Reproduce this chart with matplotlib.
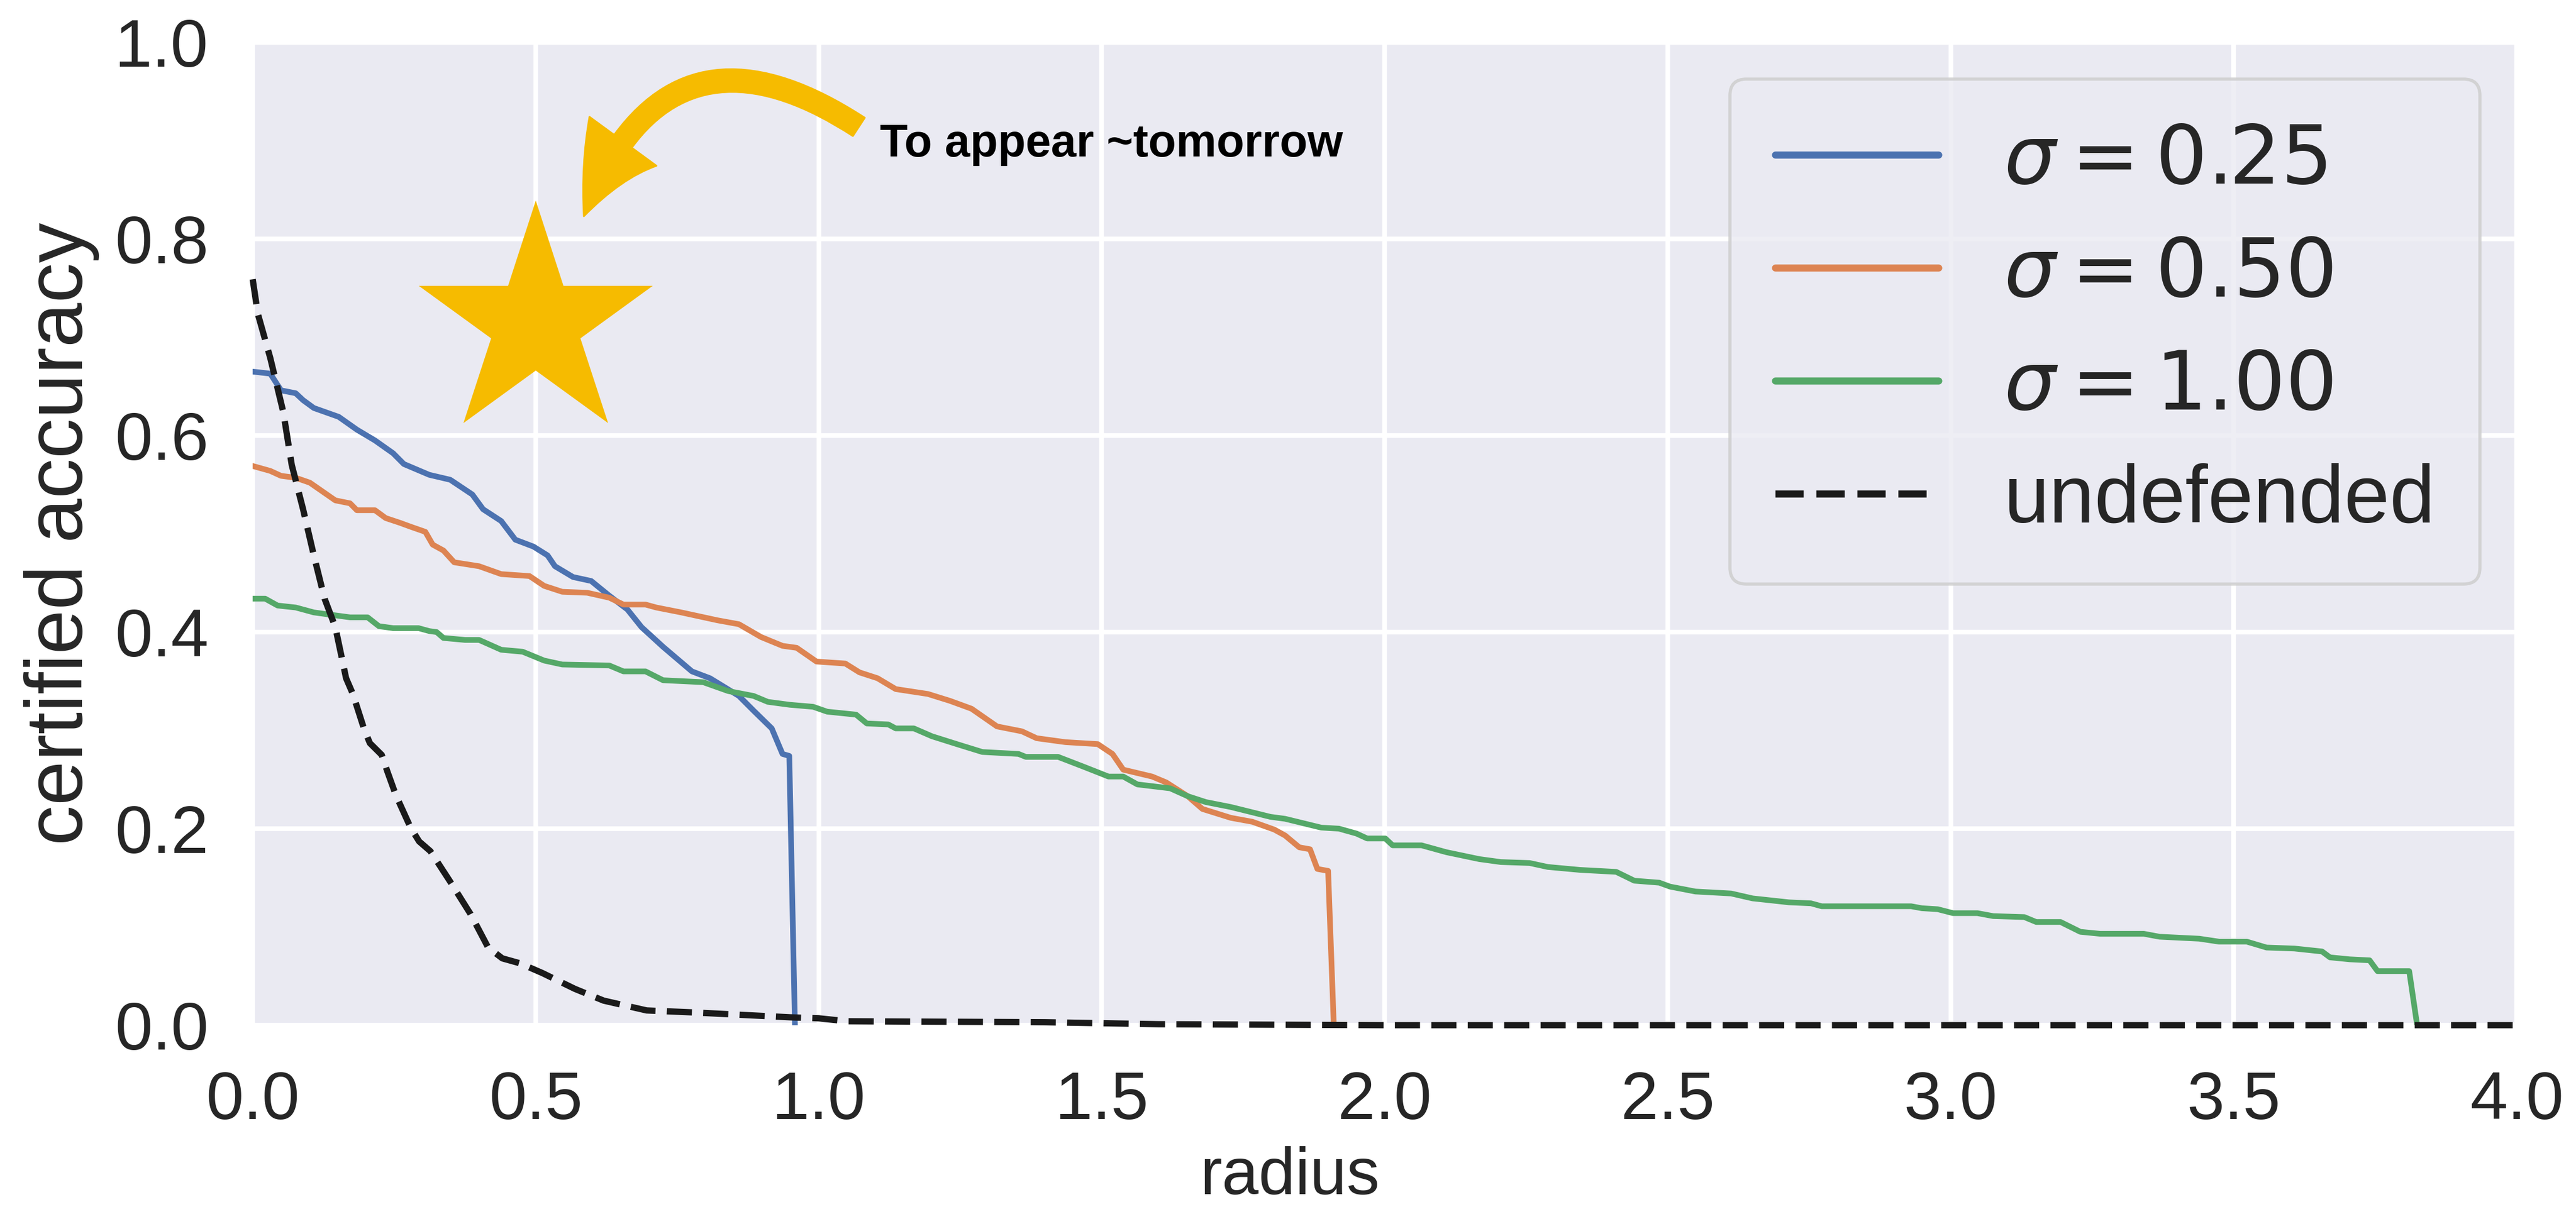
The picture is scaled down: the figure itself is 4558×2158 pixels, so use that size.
import numpy as np
import matplotlib
matplotlib.use("Agg")
import matplotlib.pyplot as plt
import seaborn as sns
from matplotlib.patches import FancyArrowPatch

# ====== data ======
r_025 = [0.0, 0.031, 0.05, 0.076, 0.089, 0.108, 0.152, 0.184, 0.216, 0.248, 0.267, 0.312,
         0.349, 0.388, 0.407, 0.439, 0.464, 0.496, 0.521, 0.534, 0.566, 0.598, 0.63, 0.662,
         0.687, 0.725, 0.776, 0.808, 0.859, 0.885, 0.917, 0.936, 0.948, 0.958]
acc_025 = [0.665, 0.663, 0.646, 0.643, 0.636, 0.628, 0.619, 0.606, 0.595, 0.582, 0.571, 0.56,
           0.555, 0.54, 0.525, 0.513, 0.494, 0.487, 0.478, 0.467, 0.456, 0.452, 0.437, 0.423,
           0.405, 0.385, 0.36, 0.353, 0.335, 0.32, 0.302, 0.276, 0.274, 0.0]

r_050 = [0.0, 0.031, 0.05, 0.076, 0.101, 0.121, 0.146, 0.172, 0.184, 0.216, 0.235, 0.261,
         0.28, 0.305, 0.318, 0.337, 0.356, 0.4, 0.439, 0.489, 0.515, 0.547, 0.591, 0.63,
         0.655, 0.694, 0.713, 0.757, 0.821, 0.859, 0.898, 0.936, 0.961, 0.996, 1.047, 1.072,
         1.104, 1.136, 1.193, 1.232, 1.27, 1.315, 1.359, 1.385, 1.436, 1.493, 1.519, 1.538,
         1.589, 1.614, 1.652, 1.678, 1.728, 1.766, 1.805, 1.824, 1.849, 1.868, 1.881, 1.9, 1.91]
acc_050 = [0.569, 0.564, 0.559, 0.557, 0.552, 0.544, 0.534, 0.531, 0.524, 0.524, 0.516, 0.511,
           0.507, 0.502, 0.489, 0.483, 0.471, 0.467, 0.459, 0.457, 0.447, 0.441, 0.44, 0.435,
           0.428, 0.428, 0.425, 0.42, 0.412, 0.408, 0.395, 0.386, 0.384, 0.37, 0.368, 0.359,
           0.353, 0.342, 0.337, 0.33, 0.322, 0.304, 0.299, 0.292, 0.288, 0.286, 0.276, 0.26,
           0.253, 0.247, 0.233, 0.22, 0.211, 0.207, 0.199, 0.193, 0.181, 0.179, 0.159, 0.157, 0.0]

r_100 = [0.0, 0.022, 0.044, 0.076, 0.108, 0.146, 0.172, 0.203, 0.223, 0.248, 0.293, 0.312,
         0.325, 0.337, 0.375, 0.4, 0.439, 0.477, 0.515, 0.547, 0.63, 0.655, 0.694, 0.725,
         0.796, 0.84, 0.885, 0.91, 0.949, 0.99, 1.015, 1.066, 1.085, 1.123, 1.136, 1.168,
         1.2, 1.244, 1.289, 1.353, 1.366, 1.423, 1.468, 1.512, 1.538, 1.563, 1.621, 1.652,
         1.684, 1.728, 1.798, 1.824, 1.888, 1.919, 1.95, 1.969, 2.001, 2.014, 2.065, 2.109,
         2.167, 2.205, 2.256, 2.288, 2.345, 2.409, 2.441, 2.485, 2.504, 2.549, 2.612, 2.65,
         2.714, 2.753, 2.772, 2.93, 2.949, 2.977, 3.004, 3.047, 3.075, 3.13, 3.151, 3.194,
         3.229, 3.264, 3.341, 3.369, 3.439, 3.474, 3.523, 3.558, 3.607, 3.656, 3.67, 3.705,
         3.74, 3.754, 3.81, 3.824]
acc_100 = [0.434, 0.434, 0.427, 0.425, 0.42, 0.417, 0.415, 0.415, 0.406, 0.404, 0.404, 0.401,
           0.4, 0.394, 0.392, 0.392, 0.382, 0.38, 0.371, 0.367, 0.366, 0.36, 0.36, 0.351,
           0.349, 0.34, 0.335, 0.329, 0.326, 0.324, 0.319, 0.316, 0.307, 0.306, 0.302, 0.302,
           0.294, 0.286, 0.278, 0.276, 0.273, 0.273, 0.263, 0.253, 0.253, 0.245, 0.241, 0.233,
           0.227, 0.222, 0.212, 0.21, 0.201, 0.2, 0.195, 0.19, 0.19, 0.183, 0.183, 0.176,
           0.169, 0.166, 0.165, 0.161, 0.158, 0.156, 0.147, 0.145, 0.141, 0.136, 0.134, 0.129,
           0.125, 0.124, 0.121, 0.121, 0.119, 0.118, 0.114, 0.114, 0.111, 0.11, 0.105, 0.105,
           0.095, 0.093, 0.093, 0.09, 0.088, 0.085, 0.085, 0.079, 0.078, 0.075, 0.069, 0.067,
           0.066, 0.055, 0.055, 0.0]

r_undef = [0.0, 0.009, 0.031, 0.054, 0.069, 0.089, 0.108, 0.127, 0.146, 0.165, 0.177, 0.197,
           0.207, 0.228, 0.238, 0.253, 0.279, 0.294, 0.314, 0.349, 0.385, 0.416, 0.441, 0.472,
           0.512, 0.569, 0.62, 0.696, 0.778, 0.95, 1.0, 1.05, 1.4, 1.6, 2.0, 4.0]
acc_undef = [0.759, 0.724, 0.679, 0.624, 0.57, 0.525, 0.478, 0.434, 0.405, 0.353, 0.337, 0.301,
             0.287, 0.275, 0.258, 0.234, 0.201, 0.187, 0.177, 0.146, 0.113, 0.079, 0.068, 0.063,
             0.053, 0.037, 0.025, 0.015, 0.013, 0.008, 0.007, 0.004, 0.003, 0.001, 0.0, 0.0]

labels = [r"$\sigma = 0.25$", r"$\sigma = 0.50$", r"$\sigma = 1.00$", "undefended"]
colors = ["#4C72B0", "#DD8452", "#55A868"]

note_text = "To appear ~tomorrow"
note_x, note_y = 1.108, 0.884
star_x, star_y = 0.5, 0.714
arrow_from = (1.071, 0.914)
arrow_to = (0.585, 0.823)
gold = "#F6BB00"

# ====== style ======
sns.set_theme(style="darkgrid")
plt.rcParams["font.family"] = ["Liberation Sans", "DejaVu Sans"]
plt.rcParams["grid.linewidth"] = 3

fig = plt.figure(figsize=(22.79, 10.79), dpi=200)
ax = fig.add_axes([0.0981, 0.159, 0.977 - 0.0981, 0.9652 - 0.159])
for s in ax.spines.values():
    s.set_visible(False)

ax.plot(r_025, acc_025, color=colors[0], lw=3.6, label=labels[0])
ax.plot(r_050, acc_050, color=colors[1], lw=3.6, label=labels[1])
ax.plot(r_100, acc_100, color=colors[2], lw=3.6, label=labels[2])
ax.plot(r_undef, acc_undef, color="#1a1a1a", lw=4, dashes=(4, 1.8), label=labels[3],
        clip_on=False, zorder=3)

ax.set_xlim(0, 4)
ax.set_ylim(0, 1)
ax.set_xticks(np.arange(0, 4.01, 0.5))
ax.set_yticks(np.arange(0, 1.01, 0.2))
ax.tick_params(axis="both", labelsize=43, length=0, colors="#262626")
ax.tick_params(axis="y", pad=28)
ax.tick_params(axis="x", pad=29)
ax.set_xlabel("radius", fontsize=42, color="#262626", labelpad=8)
ax.xaxis.label.set_x(0.458)
ax.set_ylabel("certified accuracy", fontsize=51, color="#262626", labelpad=10)

leg = ax.legend(fontsize=52, loc="upper right", handlelength=2.0, labelspacing=0.45,
                borderpad=0.55, borderaxespad=0.45, fancybox=True)
leg.get_frame().set_linewidth(2)
for line in leg.get_lines():
    line.set_linewidth(4.5)

# ====== annotation ======
ax.plot([star_x], [star_y], marker="*", markersize=157, color=gold, mew=0, zorder=5)
arrow = FancyArrowPatch(arrow_from, arrow_to, connectionstyle="arc3,rad=0.62",
                        arrowstyle="simple,head_length=5.4,head_width=5.3,tail_width=1.4",
                        mutation_scale=10, color=gold, shrinkA=0, shrinkB=0, zorder=5)
ax.add_patch(arrow)
ax.text(note_x, note_y, note_text, fontsize=29, fontweight="bold", color="black",
        va="baseline", ha="left")

fig.savefig("out.png", dpi=200)
